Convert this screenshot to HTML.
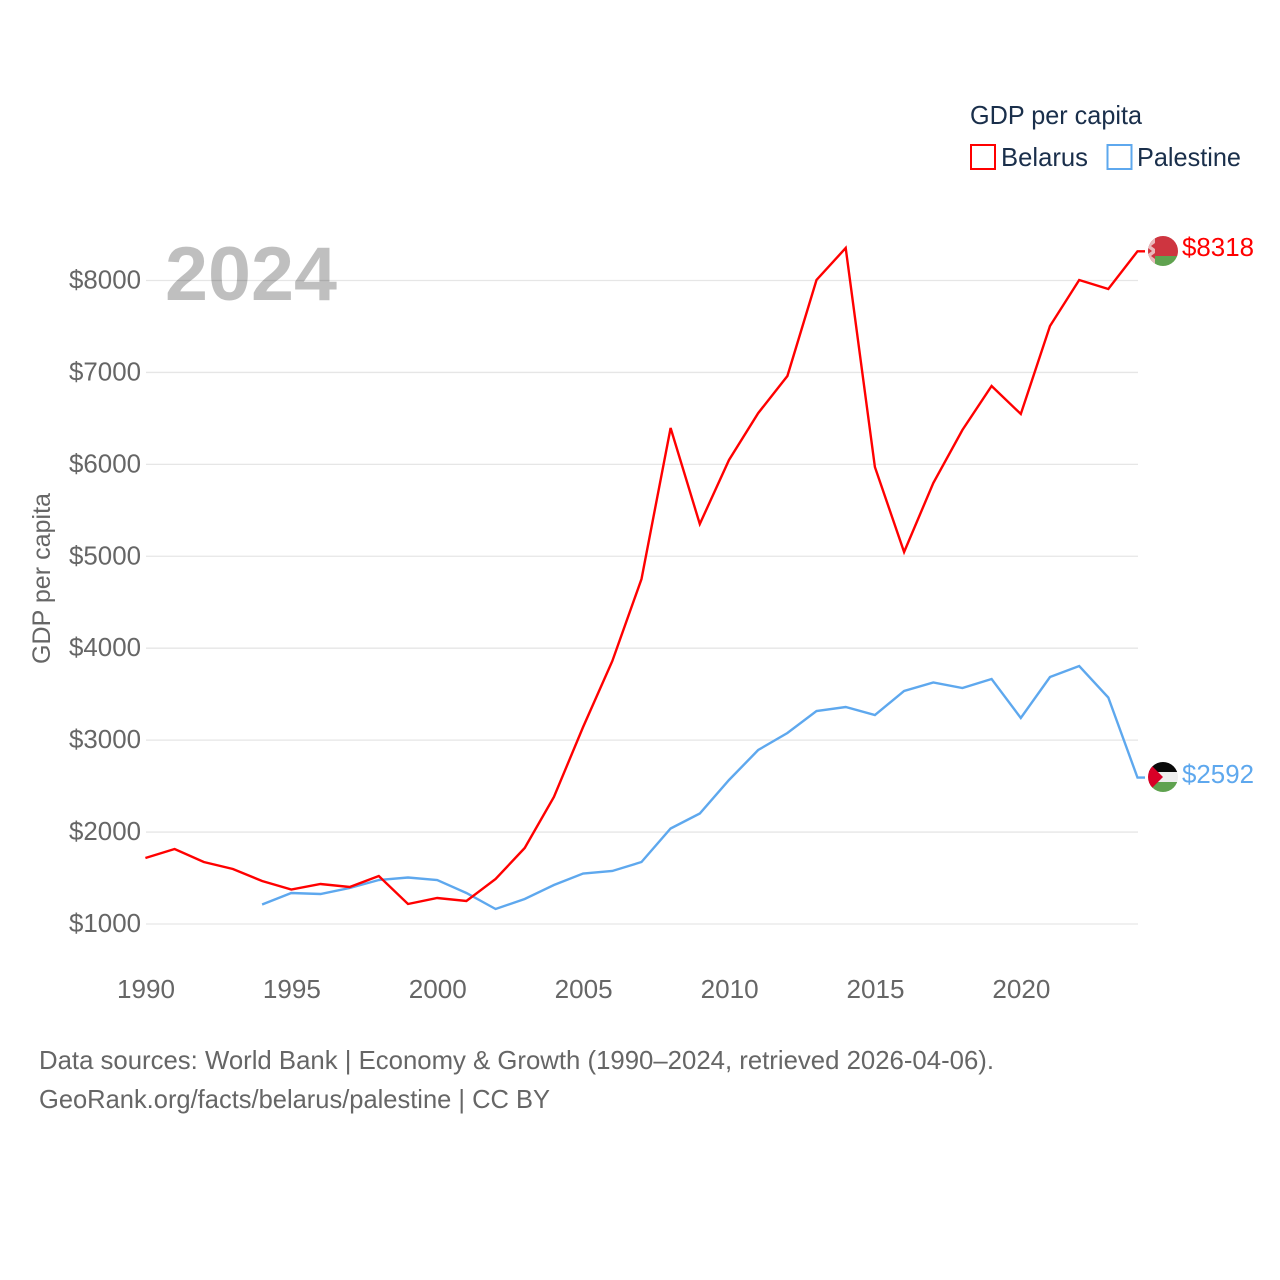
<!DOCTYPE html>
<html lang="en">
<head>
<meta charset="utf-8">
<title>GDP per capita: Belarus and Palestine</title>
<style>
html,body{margin:0;padding:0;background:#fff;}
svg{display:block;}
text{font-family:"Liberation Sans","DejaVu Sans",sans-serif;}
</style>
</head>
<body>
<svg id="chart" xmlns="http://www.w3.org/2000/svg" width="1280" height="1280" viewBox="0 0 1280 1280">
  <defs>
    <clipPath id="flag-clip-by"><circle cx="1163" cy="251" r="15"/></clipPath>
    <clipPath id="flag-clip-ps"><circle cx="1163" cy="777" r="15"/></clipPath>
  </defs>
  <g id="grid"></g>
  <g id="y-ticks"></g>
  <g id="x-ticks"></g>
  <text x="165" y="300" font-size="76" font-weight="bold" fill="#000" fill-opacity="0.25" textLength="172" lengthAdjust="spacingAndGlyphs">2024</text>
  <text transform="translate(50,664) rotate(-90)" font-size="25" fill="#666" textLength="171" lengthAdjust="spacingAndGlyphs">GDP per capita</text>
  <g id="series"></g>

  <g clip-path="url(#flag-clip-by)">
    <rect x="1148" y="236" width="30" height="20" fill="#ce3540"/>
    <rect x="1148" y="256" width="30" height="10" fill="#5fa24f"/>
    <rect x="1148" y="236" width="7" height="30" fill="#e9b8bb"/>
    <path d="M1148 238l4 3-4 3zM1155 243l-4 3 4 3zM1148 248l4 3-4 3zM1155 253l-4 3 4 3zM1148 258l4 3-4 3z" fill="#ce3540"/>
  </g>
  <text id="label-belarus" x="1182" y="256" font-size="26" fill="#ff0000" textLength="72" lengthAdjust="spacingAndGlyphs"></text>

  <g clip-path="url(#flag-clip-ps)">
    <rect x="1148" y="762" width="30" height="10" fill="#0a0a0a"/>
    <rect x="1148" y="772" width="30" height="10" fill="#eeeeee"/>
    <rect x="1148" y="782" width="30" height="10" fill="#5fa24f"/>
    <path d="M1148 762L1163 777L1148 792Z" fill="#d80027"/>
  </g>
  <text id="label-palestine" x="1182" y="783" font-size="26" fill="#5ea8ee" textLength="72" lengthAdjust="spacingAndGlyphs"></text>

  <g>
    <text x="970" y="124" font-size="26" fill="#1a2f4b" textLength="172" lengthAdjust="spacingAndGlyphs">GDP per capita</text>
    <rect x="971" y="145" width="24" height="24" fill="#fff" stroke="#ff0000" stroke-width="2"/>
    <text x="1001" y="166" font-size="26" fill="#1a2f4b" textLength="87" lengthAdjust="spacingAndGlyphs">Belarus</text>
    <rect x="1107.500" y="145" width="24" height="24" fill="#fff" stroke="#5ea8ee" stroke-width="2"/>
    <text x="1137" y="166" font-size="26" fill="#1a2f4b" textLength="104" lengthAdjust="spacingAndGlyphs">Palestine</text>
  </g>

  <text x="39" y="1069" font-size="26" fill="#666" textLength="955" lengthAdjust="spacingAndGlyphs">Data sources: World Bank | Economy &amp; Growth (1990–2024, retrieved 2026-04-06).</text>
  <text x="39" y="1108" font-size="26" fill="#666" textLength="511" lengthAdjust="spacingAndGlyphs">GeoRank.org/facts/belarus/palestine | CC BY</text>
</svg>
<script>
const years = [1990,1991,1992,1993,1994,1995,1996,1997,1998,1999,2000,2001,2002,2003,2004,2005,2006,2007,2008,2009,2010,2011,2012,2013,2014,2015,2016,2017,2018,2019,2020,2021,2022,2023,2024];
const belarusValues = [1718,1816,1674,1598,1468,1375,1435,1402,1522,1218,1283,1250,1490,1827,2381,3143,3860,4753,6395,5351,6047,6558,6961,8005,8353,5971,5047,5797,6374,6852,6548,7505,8005,7907,8318];
const palestineValues = [null,null,null,null,1212,1337,1326,1392,1479,1506,1479,1337,1163,1272,1424,1549,1577,1674,2039,2202,2566,2893,3078,3317,3360,3273,3534,3627,3567,3665,3241,3687,3806,3464,2592];
const yTicks = [1000,2000,3000,4000,5000,6000,7000,8000];
const xTicks = [1990,1995,2000,2005,2010,2015,2020];

const SVG_NS = 'http://www.w3.org/2000/svg';
function xScale(year){ return 145.4 + (year - 1990) * 29.18; }
function yScale(value){ return 924 - (value - 1000) * 0.09193; }
function make(tag, attrs, parent){
  const el = document.createElementNS(SVG_NS, tag);
  for (const k in attrs) el.setAttribute(k, attrs[k]);
  parent.appendChild(el);
  return el;
}

const gridGroup = document.getElementById('grid');
const yGroup = document.getElementById('y-ticks');
yTicks.forEach(function(t){
  const line = make('line', {x1:146, x2:1138, y1:yScale(t), y2:yScale(t), stroke:'#e6e6e6', 'stroke-width':1.3}, gridGroup);
  
  
  const label = make('text', {x:69, y:yScale(t) + 8, 'font-size':26, fill:'#666', textLength:72, lengthAdjust:'spacingAndGlyphs'}, yGroup);
  
  
  label.textContent = '$' + t;
});

const xGroup = document.getElementById('x-ticks');
xTicks.forEach(function(t){
  const label = make('text', {x:xScale(t) + 0.6, y:998, 'font-size':26, fill:'#666', 'text-anchor':'middle', textLength:58, lengthAdjust:'spacingAndGlyphs'}, xGroup);
  
  
  label.textContent = t;
});

function drawSeries(values, color, name){
  const pts = [];
  values.forEach(function(v, i){
    if (v !== null) pts.push(xScale(years[i]).toFixed(1) + ',' + yScale(v).toFixed(1));
  });
  const lastY = yScale(values[values.length - 1]).toFixed(1);
  pts.push('1145,' + lastY);
  const line = make('polyline', {points:pts.join(' '), fill:'none', stroke:color, 'stroke-width':2.4, 'stroke-linejoin':'miter'}, document.getElementById('series'));
  
  
}
drawSeries(palestineValues, '#5ea8ee', 'palestine-line');
drawSeries(belarusValues, '#ff0000', 'belarus-line');

function placeLabel(id, values){
  const v = values[values.length - 1];
  const el = document.getElementById(id);
  el.textContent = '$' + v;
}
placeLabel('label-belarus', belarusValues);
placeLabel('label-palestine', palestineValues);
</script>
</body>
</html>
